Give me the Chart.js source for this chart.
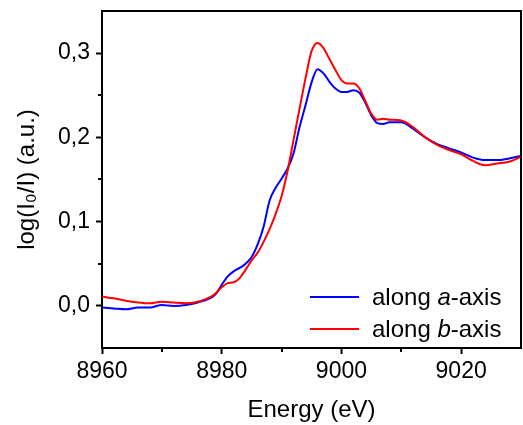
<!DOCTYPE html>
<html>
<head>
<meta charset="utf-8">
<script src="https://cdn.jsdelivr.net/npm/chart.js@4"></script>
<style>
  html, body { margin: 0; padding: 0; background: #fff; }
</style>
</head>
<body>
<canvas id="chart" width="523" height="425"></canvas>
<script>
// energy grid (eV) and absorbance
const energy = [8960, 8962, 8964, 8966, 8968, 8970, 8972, 8974, 8976, 8978, 8979, 8980,
  8981, 8982, 8983, 8984, 8985, 8986, 8987, 8988, 8989, 8990, 8991, 8992, 8993, 8994,
  8995, 8996, 8997, 8998, 8999, 9000, 9001, 9002, 9003, 9004, 9005, 9006, 9007, 9008,
  9010, 9012, 9014, 9016, 9018, 9020, 9022, 9024, 9026, 9028, 9030];
const alongA = [-0.002, -0.003, -0.004, -0.002, -0.002, 0.001, 0.000, 0.001, 0.004, 0.009, 0.014, 0.025,
  0.035, 0.041, 0.045, 0.050, 0.058, 0.073, 0.094, 0.125, 0.140, 0.151, 0.163, 0.181, 0.212, 0.238,
  0.265, 0.281, 0.276, 0.266, 0.258, 0.254, 0.254, 0.256, 0.253, 0.241, 0.226, 0.217, 0.216, 0.218,
  0.218, 0.210, 0.200, 0.192, 0.187, 0.182, 0.176, 0.173, 0.173, 0.175, 0.178];
const alongB = [0.011, 0.009, 0.006, 0.004, 0.003, 0.005, 0.004, 0.003, 0.005, 0.010, 0.015, 0.022,
  0.027, 0.028, 0.033, 0.043, 0.054, 0.063, 0.076, 0.091, 0.109, 0.130, 0.160, 0.197, 0.234, 0.270,
  0.302, 0.312, 0.306, 0.293, 0.280, 0.268, 0.264, 0.264, 0.258, 0.243, 0.228, 0.221, 0.222, 0.221,
  0.220, 0.212, 0.200, 0.191, 0.185, 0.180, 0.172, 0.167, 0.169, 0.171, 0.177];

const seriesLabels = ['along a-axis', 'along b-axis'];
const legendParts = [['along ', 'a', '-axis'], ['along ', 'b', '-axis']];
const xTicks = [8960, 8980, 9000, 9020];
const xMinor = [8970, 8990, 9010];
const yTicks = [0, 0.1, 0.2, 0.3];
const yMinor = [0.05, 0.15, 0.25];

const FONT = "'Liberation Sans', Arial, sans-serif";
Chart.defaults.font.family = FONT;
Chart.defaults.color = '#000';

// frame on top/right, minor ticks and the legend with italic letters
const extras = {
  id: 'extras',
  afterDraw(chart) {
    const ctx = chart.ctx;
    const a = chart.chartArea;
    const xs = chart.scales.x, ys = chart.scales.y;
    ctx.save();
    ctx.strokeStyle = '#000';
    ctx.lineWidth = 2;
    ctx.beginPath();
    ctx.moveTo(a.left, a.top);
    ctx.lineTo(a.right, a.top);
    ctx.lineTo(a.right, a.bottom);
    ctx.stroke();

    ctx.beginPath();
    xMinor.forEach(v => {
      const px = Math.round(xs.getPixelForValue(v));
      ctx.moveTo(px, a.bottom);
      ctx.lineTo(px, a.bottom + 4);
    });
    yMinor.forEach(v => {
      const py = Math.round(ys.getPixelForValue(v));
      ctx.moveTo(a.left, py);
      ctx.lineTo(a.left - 4, py);
    });
    ctx.stroke();

    const colors = chart.data.datasets.map(d => d.borderColor);
    ctx.textBaseline = 'middle';
    legendParts.forEach((parts, i) => {
      const y = 297 + i * 32;
      ctx.strokeStyle = colors[i];
      ctx.lineWidth = 2;
      ctx.beginPath();
      ctx.moveTo(310, y);
      ctx.lineTo(359, y);
      ctx.stroke();
      let x = 372;
      parts.forEach((p, j) => {
        ctx.font = (j === 1 ? 'italic ' : '') + '24px ' + FONT;
        ctx.fillStyle = '#000';
        ctx.fillText(p, x, y + 1);
        x += ctx.measureText(p).width;
      });
    });
    ctx.restore();
  }
};

new Chart(document.getElementById('chart'), {
  type: 'line',
  data: {
    datasets: [
      {
        label: seriesLabels[0],
        data: energy.map((e, i) => ({ x: e, y: alongA[i] })),
        borderColor: '#0000ff',
        order: 2
      },
      {
        label: seriesLabels[1],
        data: energy.map((e, i) => ({ x: e, y: alongB[i] })),
        borderColor: '#ff0000',
        order: 1
      }
    ]
  },
  options: {
    responsive: false,
    animation: false,
    devicePixelRatio: 1,
    layout: { padding: { top: 11, right: 2, left: 0, bottom: 0 } },
    elements: {
      point: { radius: 0 },
      line: { borderWidth: 2, cubicInterpolationMode: 'monotone', fill: false }
    },
    plugins: {
      legend: { display: false },
      tooltip: { enabled: false }
    },
    scales: {
      x: {
        type: 'linear',
        min: 8960,
        max: 9030,
        afterBuildTicks: s => { s.ticks = xTicks.map(v => ({ value: v })); },
        afterFit: s => { s.height = 77; s.paddingLeft = 0; s.paddingRight = 0; },
        grid: { drawOnChartArea: false, tickLength: 6, tickWidth: 2, tickColor: '#000' },
        border: { color: '#000', width: 2 },
        ticks: {
          autoSkip: false, maxRotation: 0, padding: 4,
          font: { size: 23 },
          callback: v => String(v)
        },
        title: { display: true, text: 'Energy (eV)', font: { size: 24 }, padding: { top: 0, bottom: 0 } }
      },
      y: {
        min: -0.05,
        max: 0.35,
        afterBuildTicks: s => { s.ticks = yTicks.map(v => ({ value: v })); },
        afterFit: s => { s.width = 102; s.paddingTop = 0; s.paddingBottom = 0; },
        grid: { drawOnChartArea: false, tickLength: 6, tickWidth: 2, tickColor: '#000' },
        border: { color: '#000', width: 2 },
        ticks: {
          autoSkip: false, padding: 6,
          font: { size: 23 },
          callback: v => v.toFixed(1).replace('.', ',')
        },
        title: { display: true, text: 'log(I₀/I) (a.u.)', font: { size: 24 }, padding: { top: 13, bottom: 0 } }
      }
    }
  },
  plugins: [extras]
});
</script>
</body>
</html>
